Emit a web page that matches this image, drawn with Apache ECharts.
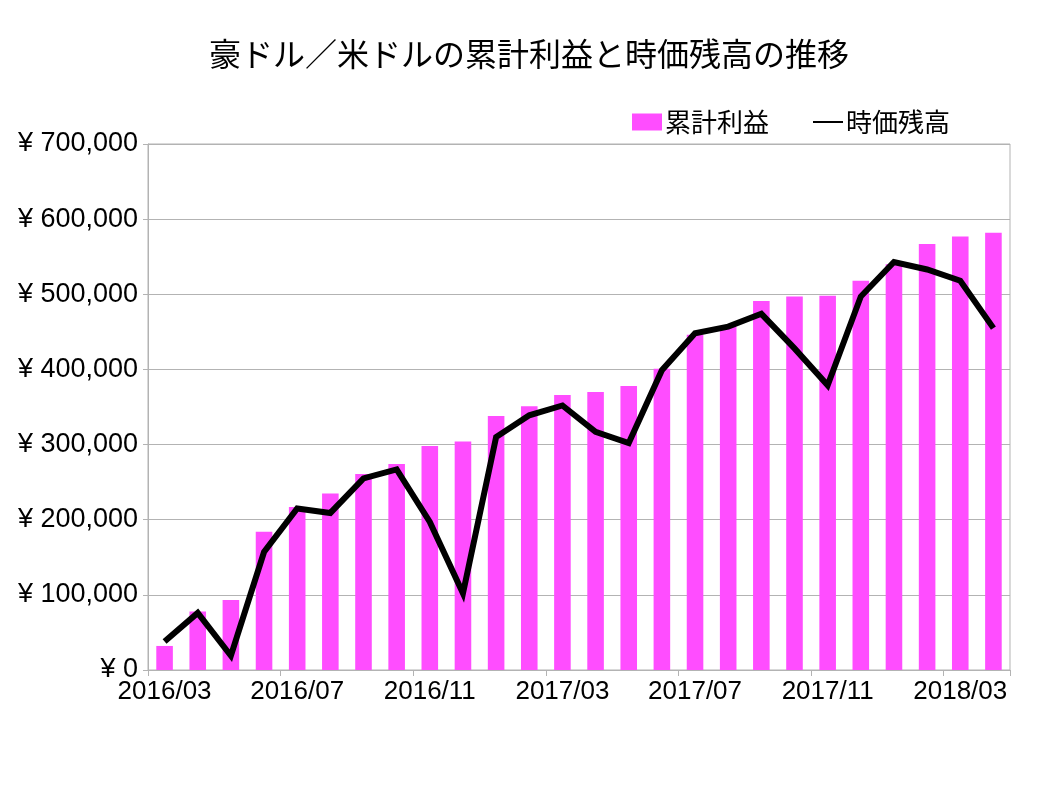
<!DOCTYPE html>
<html>
<head>
<meta charset="utf-8">
<script src="https://cdn.jsdelivr.net/npm/echarts@6/dist/echarts.min.js"></script>
<style>
html,body{margin:0;padding:0;background:#fff;}
#chart{width:1058px;height:794px;}
</style>
</head>
<body>
<div id="chart"></div>
<script>
const titleText = '豪ドル／米ドルの累計利益と時価残高の推移';
const categories = ['2016/03','2016/04','2016/05','2016/06','2016/07','2016/08','2016/09','2016/10','2016/11','2016/12',
  '2017/01','2017/02','2017/03','2017/04','2017/05','2017/06','2017/07','2017/08','2017/09','2017/10',
  '2017/11','2017/12','2018/01','2018/02','2018/03','2018/04'];
const cumulativeProfit = [32000, 78000, 93000, 184000, 217000, 235000, 261000, 274000, 298000, 304000,
  338000, 351000, 366000, 370000, 378000, 401000, 446000, 457000, 491000, 497000,
  498000, 518000, 540000, 567000, 577000, 582000];
const marketValue = [38000, 76000, 19000, 157000, 215000, 209000, 255000, 267000, 197000, 102000,
  310000, 339000, 352000, 317000, 302000, 399000, 448000, 457000, 474000, 428000,
  379000, 497000, 543000, 533000, 518000, 455000];
const seriesNames = ['累計利益', '時価残高'];

function yen(v){
  return '¥ ' + String(v).replace(/\B(?=(\d{3})+(?!\d))/g, ',');
}

const chart = echarts.init(document.getElementById('chart'), null, {renderer:'canvas'});
chart.setOption({
  animation: false,
  backgroundColor: '#ffffff',
  title: {
    text: titleText,
    left: 'center',
    top: 33,
    textStyle: {fontFamily: '"Noto Sans CJK JP"', fontSize: 32, fontWeight: 'normal', color: '#000'}
  },
  legend: {
    left: 627,
    top: 104,
    itemGap: 44,
    itemWidth: 30,
    itemHeight: 17,
    textStyle: {fontFamily: '"Noto Sans CJK JP"', fontSize: 26, color: '#000', padding: [0,0,0,-2]},
    data: [
      {name: seriesNames[0], icon: 'rect'},
      {name: seriesNames[1], icon: 'path://M0,0 L30,0 L30,2 L0,2 Z', itemStyle: {color: '#000'}}
    ]
  },
  grid: {left: 148, right: 48, top: 144, bottom: 124, show: true, borderColor: '#b3b3b3', borderWidth: 1},
  xAxis: {
    type: 'category',
    data: categories,
    boundaryGap: true,
    axisLine: {lineStyle: {color: '#b3b3b3', width: 1}},
    axisTick: {show: true, interval: 3, length: 6, lineStyle: {color: '#b3b3b3'}},
    axisLabel: {interval: 3, color: '#000', fontFamily: '"Liberation Sans"', fontSize: 26, margin: 9}
  },
  yAxis: {
    type: 'value',
    min: 0, max: 700000, interval: 100000,
    axisLine: {show: true, lineStyle: {color: '#b3b3b3', width: 1}},
    axisTick: {show: true, length: 5, lineStyle: {color: '#b3b3b3'}},
    splitLine: {lineStyle: {color: '#b3b3b3', width: 1}},
    axisLabel: {formatter: yen, color: '#000', fontFamily: '"Liberation Sans"', fontSize: 27, margin: 10}
  },
  series: [
    {
      name: seriesNames[0],
      type: 'bar',
      data: cumulativeProfit,
      barWidth: '50%',
      itemStyle: {color: '#ff4dff'}
    },
    {
      name: seriesNames[1],
      type: 'line',
      data: marketValue,
      symbol: 'none',
      lineStyle: {color: '#000', width: 6, join: 'miter'},
      itemStyle: {color: '#000'}
    }
  ]
});
</script>
</body>
</html>
